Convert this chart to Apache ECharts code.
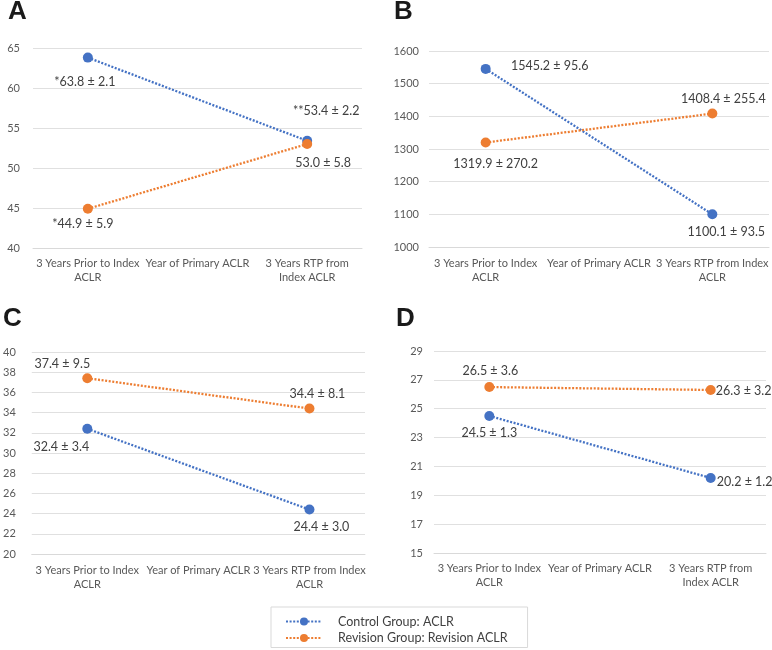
<!DOCTYPE html>
<html>
<head>
<meta charset="utf-8">
<script src="https://cdn.jsdelivr.net/npm/echarts@6/dist/echarts.min.js"></script>
<style>
html,body{margin:0;padding:0;background:#fff;}
#c{width:772px;height:650px;}
</style>
</head>
<body>
<div id="c"></div>
<script>
// ---- data ----
const seriesNames = ['Control Group: ACLR', 'Revision Group: Revision ACLR'];
const panelLetters = ['A', 'B', 'C', 'D'];
const categoriesA = ['3 Years Prior to Index\nACLR', 'Year of Primary ACLR', '3 Years RTP from\nIndex ACLR'];
const categoriesB = ['3 Years Prior to Index\nACLR', 'Year of Primary ACLR', '3 Years RTP from Index\nACLR'];
const categoriesC = ['3 Years Prior to Index\nACLR', 'Year of Primary ACLR', '3 Years RTP from Index\nACLR'];
const categoriesD = ['3 Years Prior to Index\nACLR', 'Year of Primary ACLR', '3 Years RTP from\nIndex ACLR'];

const controlA = [63.8, null, 53.4];
const controlSdA = [2.1, null, 2.2];
const controlPrefixA = ['*', '', '**'];
const revisionA = [44.9, null, 53.0];
const revisionSdA = [5.9, null, 5.8];
const revisionPrefixA = ['*', '', ''];

const controlB = [1545.2, null, 1100.1];
const controlSdB = [95.6, null, 93.5];
const revisionB = [1319.9, null, 1408.4];
const revisionSdB = [270.2, null, 255.4];

const controlC = [32.4, null, 24.4];
const controlSdC = [3.4, null, 3.0];
const revisionC = [37.4, null, 34.4];
const revisionSdC = [9.5, null, 8.1];

const controlD = [24.5, null, 20.2];
const controlSdD = [1.3, null, 1.2];
const revisionD = [26.5, null, 26.3];
const revisionSdD = [3.6, null, 3.2];

const yTicksA = {min: 40, max: 65, interval: 5};
const yTicksB = {min: 1000, max: 1600, interval: 100};
const yTicksC = {min: 20, max: 40, interval: 2};
const yTicksD = {min: 15, max: 29, interval: 2};

// ---- layout / styling ----
const BLUE = '#4472C4', ORANGE = '#ED7D31';
const FONT = 'Lato';
const panels = [
  {cats: categoriesA, y: yTicksA, ctrl: controlA, ctrlSd: controlSdA, ctrlPre: controlPrefixA, rev: revisionA, revSd: revisionSdA, revPre: revisionPrefixA,
   grid: {left: 33, top: 48, width: 329, height: 200}, yMargin: 13, xMargin: 8,
   title: {left: 8, top: -1},
   ctrlOff: [[-3, 24], null, [19, -30]], revOff: [[-5, 15], null, [16, 19]]},
  {cats: categoriesB, y: yTicksB, ctrl: controlB, ctrlSd: controlSdB, rev: revisionB, revSd: revisionSdB,
   grid: {left: 429, top: 51, width: 340, height: 196}, yMargin: 10, xMargin: 9,
   title: {left: 394, top: -1},
   ctrlOff: [[64, -3], null, [14, 18]], revOff: [[10, 21], null, [11, -15]]},
  {cats: categoriesC, y: yTicksC, ctrl: controlC, ctrlSd: controlSdC, rev: revisionC, revSd: revisionSdC,
   grid: {left: 23, top: 352, width: 342, height: 202}, yMargin: 16, xMargin: 9,
   title: {left: 3, top: 306},
   ctrlOff: [[-26, 18], null, [12, 17]], revOff: [[-25, -14], null, [8, -15]]},
  {cats: categoriesD, y: yTicksD, ctrl: controlD, ctrlSd: controlSdD, rev: revisionD, revSd: revisionSdD,
   grid: {left: 434, top: 351, width: 332, height: 202}, yMargin: 11, xMargin: 8,
   title: {left: 396, top: 306},
   ctrlOff: [[0, 17], null, [34, 4]], revOff: [[1, -16], null, [33, 1]]}
];

const lineStyleBase = {width: 2.3, type: [2, 1.6], cap: 'butt'};
const grids = [], xAxes = [], yAxes = [], series = [], titles = [];

function buildData(vals, sds, pres, offs) {
  return vals.map((v, i) => {
    if (v === null) return {value: null};
    const pre = pres ? pres[i] : '';
    return {
      value: v,
      label: {
        show: true, position: 'inside', offset: offs[i],
        formatter: () => pre + v.toFixed(1) + ' \u00B1 ' + sds[i].toFixed(1)
      }
    };
  });
}

panels.forEach((p, k) => {
  grids.push(Object.assign({containLabel: false}, p.grid));
  titles.push({text: panelLetters[k], left: p.title.left, top: p.title.top, padding: 0,
    textStyle: {fontFamily: 'Liberation Sans', fontWeight: 'bold', fontSize: 26, color: '#1a1a1a'}});
  xAxes.push({
    type: 'category', gridIndex: k, data: p.cats, boundaryGap: true,
    axisLine: {show: true, lineStyle: {color: '#d9d9d9', width: 1}},
    axisTick: {show: false},
    axisLabel: {interval: 0, margin: p.xMargin, fontFamily: FONT, fontSize: 11, lineHeight: 14, color: '#595959'}
  });
  yAxes.push({
    type: 'value', gridIndex: k, min: p.y.min, max: p.y.max, interval: p.y.interval,
    axisLine: {show: false}, axisTick: {show: false},
    splitLine: {show: true, lineStyle: {color: '#e0e0e0', width: 1}},
    axisLabel: {margin: p.yMargin, fontFamily: FONT, fontSize: 11, color: '#595959',
      formatter: (val) => String(val)}
  });
  const common = {
    type: 'line', xAxisIndex: k, yAxisIndex: k, connectNulls: true,
    symbol: 'circle', symbolSize: 10, animation: false,
    label: {fontFamily: FONT, fontSize: 12.5, color: '#404040'}
  };
  series.push(Object.assign({}, common, {
    name: seriesNames[0], color: BLUE,
    itemStyle: {color: BLUE}, lineStyle: Object.assign({color: BLUE}, lineStyleBase),
    data: buildData(p.ctrl, p.ctrlSd, p.ctrlPre, p.ctrlOff)
  }));
  series.push(Object.assign({}, common, {
    name: seriesNames[1], color: ORANGE,
    itemStyle: {color: ORANGE}, lineStyle: Object.assign({color: ORANGE}, lineStyleBase),
    data: buildData(p.rev, p.revSd, p.revPre, p.revOff)
  }));
});

const chart = echarts.init(document.getElementById('c'), null, {renderer: 'canvas'});
chart.setOption({
  backgroundColor: '#fff',
  animation: false,
  title: titles,
  grid: grids,
  xAxis: xAxes,
  yAxis: yAxes,
  legend: {
    data: seriesNames, orient: 'vertical', left: 271, top: 607, height: 42,
    padding: [7, 20, 2, 14], itemGap: 1.5, itemWidth: 36, itemHeight: 10,
    borderColor: '#d9d9d9', borderWidth: 1,
    textStyle: {fontFamily: FONT, fontSize: 12.5, lineHeight: 15, color: '#404040', padding: [0, 0, 0, 11]}
  },
  series: series
});
</script>
</body>
</html>
